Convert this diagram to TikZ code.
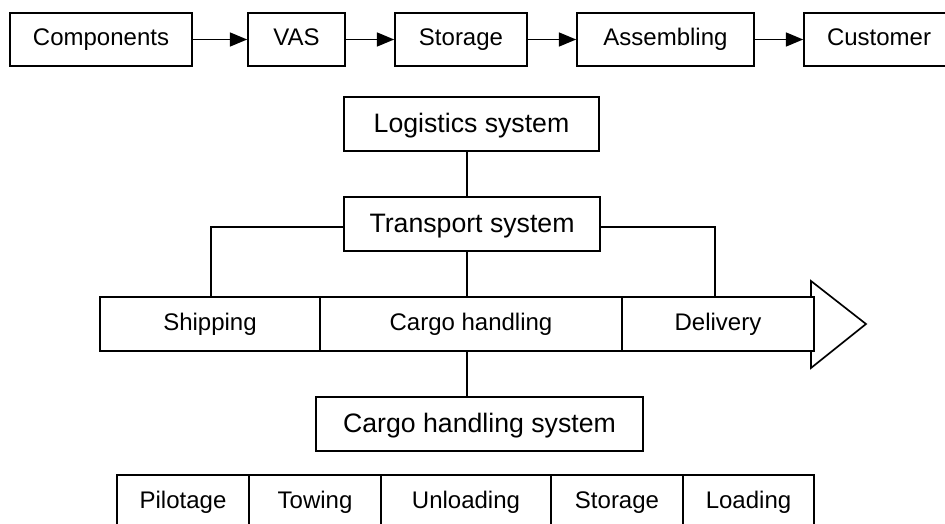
\documentclass[tikz,border=0pt]{standalone}
\usepackage{fontspec}
\setmainfont{Liberation Sans}
\usetikzlibrary{arrows.meta}
\begin{document}
\begin{tikzpicture}[x=0.75pt,y=-0.75pt,
  line width=1.25pt,
  box/.style={draw,rectangle,inner sep=0pt,fill=white,text height=13pt,text depth=3.4pt,font=\fontsize{18}{20}\selectfont},
  bigbox/.style={draw,rectangle,inner sep=0pt,fill=white,text height=15pt,text depth=1.8pt,font=\fontsize{20}{24}\selectfont},
  flow/.style={-{Triangle[length=13pt,width=10.5pt]}},
  link/.style={draw}]
\clip (0,0) rectangle (945,524);
\useasboundingbox (0,0) rectangle (945,524);
% top row
\node[box,minimum width=182*0.75pt,minimum height=53*0.75pt] (comp) at (101,39.5) {Components};
\node[box,minimum width=97*0.75pt,minimum height=53*0.75pt] (vas) at (296.5,39.5) {VAS};
\node[box,minimum width=132*0.75pt,minimum height=53*0.75pt] (stor) at (461,39.5) {Storage};
\node[box,minimum width=177*0.75pt,minimum height=53*0.75pt] (asm) at (665.5,39.5) {Assembling};
\node[box,minimum width=150*0.75pt,minimum height=53*0.75pt] (cust) at (879,39.5) {Customer};
\draw[flow] (comp) -- (vas);
\draw[flow] (vas) -- (stor);
\draw[flow] (stor) -- (asm);
\draw[flow] (asm) -- (cust);
% hierarchy
\node[bigbox,minimum width=255*0.75pt,minimum height=54*0.75pt] (log) at (471.5,124) {Logistics system};
\node[bigbox,minimum width=256*0.75pt,minimum height=54*0.75pt] (trans) at (472,224) {Transport system};
\coordinate (spine) at (467,0);
\coordinate (lb) at (211,227);
\coordinate (rb) at (715,227);
% big arrow
\path[draw,fill=white] (811,281) -- (866,324) -- (811,368) -- cycle;
\node[box,minimum width=220*0.75pt,minimum height=54*0.75pt] (ship) at (210,324) {Shipping};
\node[box,minimum width=302*0.75pt,minimum height=54*0.75pt] (cargo) at (471,324) {Cargo handling};
\node[box,minimum width=192*0.75pt,minimum height=54*0.75pt] (deliv) at (718,324) {Delivery};
\node[bigbox,minimum width=327*0.75pt,minimum height=54*0.75pt] (chs) at (479.5,424) {Cargo handling system};
\draw (log.south -| spine) -- (trans.north -| spine);
\draw (trans.west |- lb) -- (lb) -- (lb |- ship.north);
\draw (trans.east |- rb) -- (rb) -- (rb |- deliv.north);
\draw (trans.south -| spine) -- (cargo.north -| spine);
\draw (cargo.south -| spine) -- (chs.north -| spine);
% bottom row
\node[box,minimum width=132*0.75pt,minimum height=54*0.75pt] (pil) at (183,502) {Pilotage};
\node[box,minimum width=132*0.75pt,minimum height=54*0.75pt] (tow) at (315,502) {Towing};
\node[box,minimum width=170*0.75pt,minimum height=54*0.75pt] (unl) at (466,502) {Unloading};
\node[box,minimum width=132*0.75pt,minimum height=54*0.75pt] (sto2) at (617,502) {Storage};
\node[box,minimum width=131*0.75pt,minimum height=54*0.75pt] (load) at (748.5,502) {Loading};
\end{tikzpicture}
\end{document}
